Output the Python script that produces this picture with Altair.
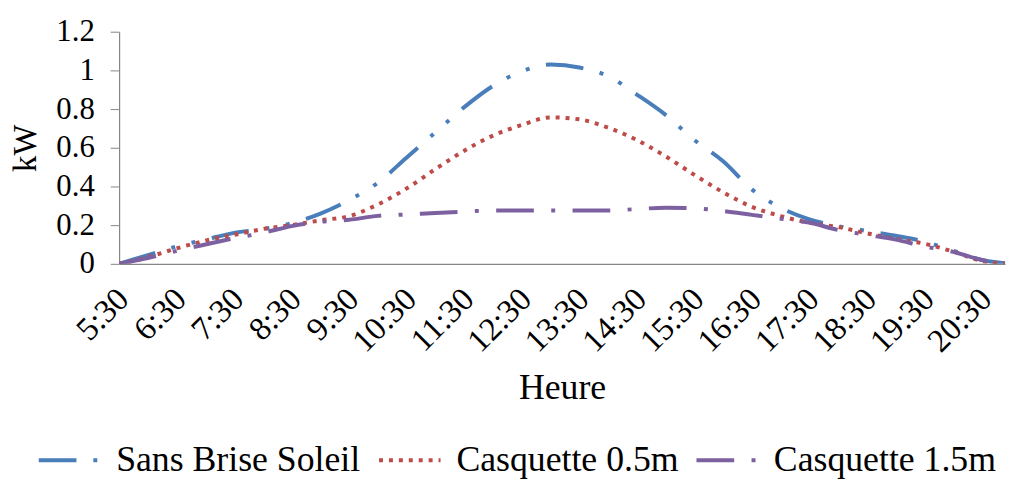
import altair as alt
import pandas as pd

times = ["5:30", "6:00", "6:30", "7:00", "7:30", "8:00", "8:30", "9:00", "9:30", "10:00",
         "10:30", "11:00", "11:30", "12:00", "12:30", "13:00", "13:30", "14:00", "14:30",
         "15:00", "15:30", "16:00", "16:30", "17:00", "17:30", "18:00", "18:30", "19:00",
         "19:30", "20:00", "20:30", "21:00"]

sans_brise = [0.0, 0.045, 0.09, 0.125, 0.16, 0.18, 0.21, 0.26, 0.33, 0.42,
              0.55, 0.68, 0.81, 0.92, 0.995, 1.03, 1.015, 0.97, 0.875,
              0.77, 0.64, 0.53, 0.385, 0.29, 0.23, 0.195, 0.17, 0.145,
              0.115, 0.068, 0.02, 0.0]

casq_05 = [0.0, 0.035, 0.08, 0.12, 0.15, 0.18, 0.2, 0.225, 0.247, 0.307,
           0.39, 0.49, 0.585, 0.663, 0.718, 0.757, 0.747, 0.704, 0.64,
           0.556, 0.46, 0.37, 0.295, 0.247, 0.212, 0.19, 0.158, 0.128,
           0.104, 0.063, 0.015, 0.0]

casq_15 = [0.0, 0.03, 0.067, 0.1, 0.132, 0.16, 0.195, 0.217, 0.228, 0.248,
           0.255, 0.263, 0.27, 0.276, 0.276, 0.276, 0.276, 0.276, 0.283,
           0.29, 0.287, 0.273, 0.253, 0.233, 0.213, 0.175, 0.15, 0.125,
           0.09, 0.062, 0.02, 0.0]

series_names = ["Sans Brise Soleil", "Casquette 0.5m", "Casquette 1.5m"]
series_colors = ["#4A7EBB", "#BE4B48", "#7D60A0"]
series_dashes = [[38, 17, 4, 17, 4, 17], [4, 6], [38, 17.5, 4, 17.5]]

tick_hours = [5.5 + i for i in range(16)]
y_ticks = [0, 0.2, 0.4, 0.6, 0.8, 1.0, 1.2]

rows = []
for name, vals in zip(series_names, [sans_brise, casq_05, casq_15]):
    for t, v in zip(times, vals):
        hh, mm = t.split(":")
        rows.append({"heure": int(hh) + int(mm) / 60.0, "kW": v, "serie": name})
df = pd.DataFrame(rows)

FONT = "Liberation Serif"

legend = alt.Legend(
    title=None,
    orient="none",
    legendX=-83,
    legendY=399,
    direction="horizontal",
    columns=3,
    symbolType="stroke",
    symbolSize=3844,
    symbolStrokeWidth=4,
    labelFont=FONT,
    labelFontSize=36,
    labelColor="black",
    labelOffset=14,
    columnPadding=10,
    labelLimit=0,
)

chart = alt.Chart(df).mark_line(interpolate="monotone", strokeWidth=4, clip=True).encode(
    x=alt.X(
        "heure:Q",
        scale=alt.Scale(domain=[5.5, 20.9], nice=False, zero=False),
        axis=alt.Axis(
            values=tick_hours,
            labelExpr="floor(datum.value) + ':30'",
            title="Heure",
            labelAngle=-45,
            labelAlign="right",
            labelBaseline="middle",
            labelPadding=30,
            labelOffset=4,
            labelFontSize=33,
            ticks=False,
            grid=False,
            titlePadding=13,
            labelOverlap=False,
        ),
    ),
    y=alt.Y(
        "kW:Q",
        scale=alt.Scale(domain=[0, 1.2], nice=False),
        axis=alt.Axis(
            values=y_ticks,
            format=".1~f",
            title="kW",
            titleFontSize=33,
            grid=False,
            tickSize=9,
            labelPadding=16,
            labelFontSize=31,
            titlePadding=14,
        ),
    ),
    color=alt.Color("serie:N", scale=alt.Scale(domain=series_names, range=series_colors), legend=legend),
    strokeDash=alt.StrokeDash("serie:N", scale=alt.Scale(domain=series_names, range=series_dashes), legend=legend),
).properties(
    width=893,
    height=234,
    autosize=alt.AutoSizeParams(type="none"),
    padding={"left": 112, "top": 22, "right": 2, "bottom": 216},
).configure_view(
    stroke=None
).configure_axis(
    labelFont=FONT,
    titleFont=FONT,
    labelColor="black",
    titleColor="black",
    titleFontSize=36,
    titleFontWeight="normal",
    domainColor="#868686",
    tickColor="#868686",
    domainWidth=1.2,
)

chart.save("out.html", embed_options={"renderer": "svg", "actions": False})
